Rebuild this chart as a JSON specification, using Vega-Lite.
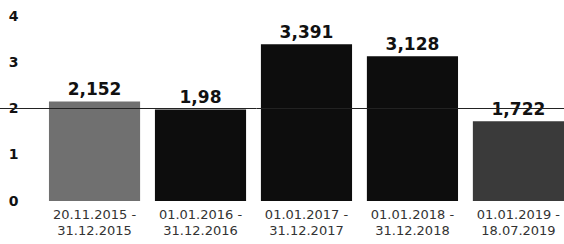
{
  "$schema": "https://vega.github.io/schema/vega-lite/v6.json",
  "width": 564,
  "height": 185,
  "autosize": {"type": "none"},
  "padding": {"top": 16, "left": 0, "right": 0, "bottom": 43},
  "config": {
    "view": {"stroke": null},
    "locale": {"number": {"decimal": ",", "thousands": ".", "grouping": [3], "currency": ["", " €"]}}
  },
  "data": {
    "values": [
      {"period": "20.11.2015 - 31.12.2015", "value": 2.152, "kind": "a"},
      {"period": "01.01.2016 - 31.12.2016", "value": 1.98, "kind": "b"},
      {"period": "01.01.2017 - 31.12.2017", "value": 3.391, "kind": "b"},
      {"period": "01.01.2018 - 31.12.2018", "value": 3.128, "kind": "b"},
      {"period": "01.01.2019 - 18.07.2019", "value": 1.722, "kind": "c"}
    ]
  },
  "layer": [
    {
      "mark": {"type": "bar"},
      "encoding": {
        "x": {
          "field": "period", "type": "nominal", "sort": null,
          "scale": {"paddingInner": 0.14, "paddingOuter": 0.231, "align": 1},
          "axis": {
            "title": null, "domain": false, "ticks": false, "labelAngle": 0,
            "labelExpr": "[split(datum.value, ' - ')[0] + ' -', split(datum.value, ' - ')[1]]",
            "labelFont": "DejaVu Sans", "labelFontSize": 13, "labelColor": "#333",
            "labelPadding": 7, "labelLineHeight": 16
          }
        },
        "y": {
          "field": "value", "type": "quantitative",
          "scale": {"domain": [0, 4], "nice": false},
          "axis": {
            "title": null, "domain": false, "ticks": false, "grid": false,
            "values": [0, 1, 2, 3, 4], "offset": -19, "labelPadding": 1,
            "labelFont": "DejaVu Sans", "labelFontWeight": "bold", "labelFontSize": 14,
            "labelColor": "#111"
          }
        },
        "color": {
          "field": "kind", "type": "nominal", "legend": null,
          "scale": {"domain": ["a", "b", "c"], "range": ["#707070", "#0d0d0d", "#3a3a3a"]}
        }
      }
    },
    {
      "mark": {"type": "text", "dy": -11, "font": "DejaVu Sans", "fontWeight": "bold", "fontSize": 17, "color": "#111"},
      "encoding": {
        "x": {"field": "period", "type": "nominal", "sort": null},
        "y": {"field": "value", "type": "quantitative"},
        "text": {"field": "value", "type": "quantitative", "format": ".4~r"}
      }
    },
    {
      "data": {"values": [{"ref": 2}]},
      "mark": {"type": "rule", "color": "#222", "strokeWidth": 1},
      "encoding": {
        "y": {"field": "ref", "type": "quantitative"}
      }
    }
  ]
}
